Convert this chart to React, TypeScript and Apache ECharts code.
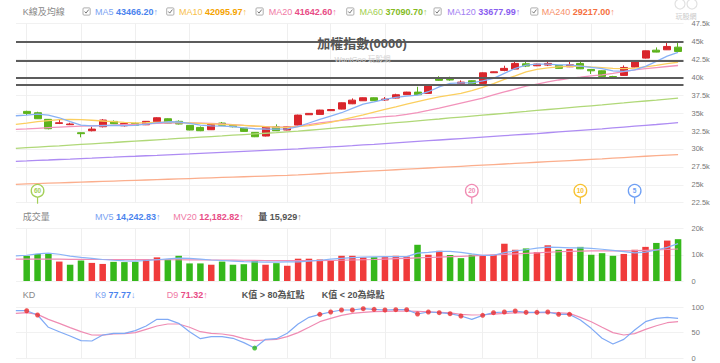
import React, { useEffect, useRef } from 'react';
import * as echarts from 'echarts';

const FONT = '"Liberation Sans", Arial, "Noto Sans CJK TC", sans-serif';

const titleText = '加權指數(0000)';
const subtitleText = 'WantGoo 玩股網';

// ---- daily candles (index 0..60) ----
const openP = [35240, 35050, 34130, 33560, 33380, 32260, 32540, 33100, 33840, 33230,
  33560, 33370, 33790, 34210, 33850, 33290, 33000, 32680, 33610, 33290,
  32910, 32310, 31800, 33100, 32640, 33330, 34770, 34820, 35340, 35560,
  36300, 36720, 37140, 36830, 37100, 37570, 37930, 37750, 39790, 39700,
  39100, 39510, 39140, 40630, 40960, 41140, 41880, 41600, 41700, 41650,
  41460, 41930, 41090, 40900, 40100, 40260, 41420, 42670, 43780, 43830, 44200];
const closeP = [34960, 34210, 32820, 33650, 33480, 32130, 32770, 34030, 33510, 33560,
  33300, 33850, 34350, 33600, 33480, 32640, 32540, 33430, 33300, 33100,
  32450, 31700, 33100, 32540, 33100, 34720, 34960, 35420, 35500, 36440,
  36810, 37140, 36730, 36960, 37560, 37930, 37560, 38770, 39570, 39620,
  39320, 38910, 40620, 40760, 41240, 41930, 41560, 41840, 41930, 41240,
  41740, 41180, 40900, 40120, 39950, 41370, 42210, 43690, 43510, 44300, 43600];
const lowP = [34730, 34180, 32730, 33470, 33330, 31620, 32450, 33000, 33470, 33120,
  33240, 33330, 33760, 33560, 33420, 32600, 32480, 32640, 33250, 33000,
  32400, 31650, 31750, 32500, 32600, 33300, 34740, 34800, 35300, 35520,
  36250, 36700, 36700, 36700, 37050, 37540, 37520, 37700, 39500, 39510,
  38950, 38880, 39100, 40600, 40840, 41100, 41420, 41550, 41560, 41200,
  41420, 41140, 40460, 40080, 39880, 40200, 41380, 42620, 43480, 43800, 43500];
const highP = [35330, 35190, 34160, 34120, 33650, 32300, 33100, 34160, 33980, 33620,
  33700, 33900, 34420, 34260, 33990, 33330, 33140, 33560, 33760, 33380,
  32960, 32350, 33200, 33430, 33160, 34780, 35000, 35460, 35540, 36480,
  37050, 37180, 37180, 37240, 37700, 37970, 38670, 39050, 40150, 40080,
  39560, 39560, 40680, 40800, 41610, 42390, 42180, 41900, 42210, 41700,
  42160, 42250, 41130, 40950, 40200, 41650, 42260, 43720, 44160, 44800, 44800];

// volume (index 0..60), 1 = up day (red), 0 = down day (green)
const volume = [9600, 10300, 10300, 7400, 6200, 7800, 6900, 6500, 7300, 7200,
  7300, 8200, 9000, 8200, 9600, 6700, 6700, 6200, 7400, 6200,
  6400, 7700, 6200, 6800, 5800, 8500, 8500, 8200, 7700, 9600,
  9600, 9000, 9100, 9100, 9600, 9300, 13800, 10000, 11500, 9900,
  8700, 10000, 9700, 10000, 14200, 11900, 12400, 11000, 13600, 11900,
  12200, 13000, 10000, 10600, 9600, 10300, 11900, 13000, 14500, 15400, 15929];
const volUp = [0, 0, 0, 1, 0, 0, 1, 1, 0, 0,
  0, 1, 1, 0, 0, 0, 0, 1, 0, 0,
  0, 0, 1, 0, 1, 1, 1, 1, 1, 1,
  1, 1, 0, 1, 1, 1, 0, 1, 1, 0,
  0, 0, 1, 1, 1, 1, 0, 1, 1, 0,
  1, 0, 0, 0, 0, 1, 1, 1, 0, 1, 0];

// ---- indicator lines: index -1 .. 60 (first value is the day before the first candle) ----
const ma5 = [34630, 34730, 34870, 34730, 34350, 33800, 33330, 33230, 33260, 33280,
  33250, 33300, 33470, 33650, 33790, 33760, 33570, 33330, 33230, 33190,
  33100, 32950, 32820, 32780, 32760, 32790, 33100, 33620, 34130, 34590,
  35050, 35660, 36260, 36580, 36920, 37190, 37370, 37510, 37980, 38670,
  39140, 39230, 39230, 39510, 39840, 40540, 41240, 41700, 41840, 41840,
  41740, 41740, 41560, 41380, 41200, 40900, 40820, 41040, 41510, 42210, 42950, 43466.2];
const ma10 = [33430, 33600, 33800, 33950, 34080, 34130, 34100, 34000, 33900, 33800,
  33700, 33650, 33660, 33720, 33750, 33700, 33620, 33560, 33500, 33430,
  33370, 33290, 33200, 33100, 33030, 33010, 33100, 33250, 33450, 33700,
  34050, 34400, 34750, 35150, 35520, 35880, 36250, 36600, 36950, 37250,
  37500, 37750, 38150, 38600, 39100, 39700, 40200, 40750, 41100, 41300,
  41450, 41520, 41560, 41450, 41350, 41250, 41200, 41270, 41450, 41650, 41900, 42095.97];
const ma20 = [32730, 32800, 32880, 32960, 33040, 33110, 33170, 33220, 33270, 33320,
  33380, 33440, 33500, 33560, 33620, 33640, 33640, 33610, 33570, 33480,
  33380, 33280, 33190, 33120, 33050, 33040, 33180, 33400, 33640, 33820,
  33990, 34130, 34250, 34380, 34500, 34620, 34820, 35080, 35380, 35700,
  36050, 36400, 36750, 37100, 37530, 37950, 38350, 38750, 39050, 39350,
  39620, 39830, 40000, 40200, 40340, 40550, 40800, 41040, 41200, 41350, 41500, 41642.6];
const ma60 = [30080, 30170, 30260, 30350, 30440, 30540, 30630, 30720, 30810, 30900,
  31000, 31090, 31180, 31270, 31360, 31460, 31550, 31640, 31730, 31820,
  31920, 32010, 32100, 32190, 32280, 32380, 32480, 32610, 32740, 32870,
  33000, 33130, 33270, 33400, 33530, 33660, 33790, 33920, 34050, 34180,
  34320, 34450, 34580, 34710, 34840, 34970, 35100, 35230, 35370, 35500,
  35630, 35760, 35890, 36020, 36150, 36290, 36420, 36560, 36690, 36820, 36960, 37090.7];
const ma120 = [28270, 28330, 28400, 28460, 28530, 28590, 28660, 28720, 28790, 28850,
  28920, 28980, 29050, 29110, 29180, 29250, 29310, 29380, 29450, 29520,
  29590, 29660, 29730, 29800, 29870, 29940, 30010, 30100, 30190, 30280,
  30370, 30460, 30560, 30650, 30750, 30850, 30950, 31050, 31150, 31250,
  31350, 31450, 31550, 31650, 31750, 31850, 31950, 32050, 32150, 32260,
  32370, 32480, 32590, 32700, 32810, 32930, 33050, 33170, 33290, 33410, 33540, 33677.99];
const ma240 = [25070, 25120, 25170, 25220, 25270, 25320, 25370, 25420, 25470, 25520,
  25570, 25620, 25670, 25720, 25770, 25820, 25870, 25920, 25970, 26020,
  26070, 26120, 26170, 26220, 26270, 26320, 26380, 26460, 26540, 26620,
  26700, 26780, 26860, 26940, 27020, 27100, 27180, 27260, 27340, 27420,
  27500, 27580, 27660, 27740, 27820, 27900, 27980, 28060, 28140, 28220,
  28300, 28380, 28460, 28540, 28620, 28710, 28800, 28890, 28980, 29070, 29150, 29217];
const mv5 = [9600, 9800, 10300, 10600, 10200, 9500, 9000, 8600, 8200, 7900,
  7700, 7600, 7800, 8100, 8400, 8700, 8600, 8300, 8000, 7800,
  7600, 7400, 7300, 7200, 7200, 7250, 7300, 7600, 7900, 8300,
  8600, 8900, 9100, 9200, 9300, 9300, 9300, 10600, 10900, 11300,
  11300, 10900, 10300, 9800, 9800, 10800, 11500, 11900, 12500, 12900,
  12800, 12600, 12600, 12400, 12100, 11700, 11200, 10700, 11000, 11800, 12800, 14242.83];
const mv20 = [8300, 8300, 8300, 8300, 8300, 8250, 8250, 8200, 8200, 8200,
  8150, 8150, 8150, 8100, 8100, 8100, 8050, 8050, 8000, 8000,
  7950, 7900, 7850, 7800, 7800, 7750, 7750, 7750, 7750, 7800,
  7900, 8000, 8100, 8200, 8350, 8500, 8650, 8800, 8950, 9100,
  9250, 9400, 9550, 9750, 9950, 10150, 10350, 10550, 10750, 10950,
  11150, 11300, 11400, 11450, 11500, 11500, 11500, 11550, 11700, 11850, 12000, 12182.82];
const k9 = [92.7, 92.7, 84.3, 60.2, 51.6, 43.1, 34.0, 33.3, 45.1, 48.4,
  48.4, 53.6, 62.7, 75.8, 75.8, 68.0, 51.6, 37.9, 41.8, 41.8,
  38.6, 30.1, 19.5, 36.6, 37.9, 48.4, 66.7, 79.7, 85.6, 90.2,
  94.1, 94.1, 96.7, 95.4, 94.1, 94.8, 94.8, 86.3, 90.2, 88.9,
  86.9, 82.4, 75.8, 83.7, 88.9, 90.2, 92.2, 89.5, 89.5, 90.2,
  85.6, 85.6, 74.5, 58.2, 38.6, 27.5, 36.6, 54.9, 71.2, 77.8, 79.5, 77.77];
const d9 = [87.6, 88.9, 85.6, 75.8, 68.0, 59.5, 51.6, 45.1, 44.8, 47.1,
  47.7, 49.7, 56.2, 62.7, 66.7, 66.7, 60.2, 51.6, 48.4, 47.1,
  43.8, 37.9, 34.0, 35.3, 36.6, 41.8, 49.7, 60.2, 71.2, 77.8,
  83.7, 87.6, 89.5, 91.0, 91.5, 92.0, 92.2, 91.5, 90.5, 89.5,
  88.5, 85.6, 84.3, 84.8, 86.0, 87.6, 88.5, 89.0, 89.0, 89.0,
  88.5, 87.6, 79.7, 71.2, 60.2, 49.7, 45.1, 47.7, 56.2, 63.3, 69.2, 71.32];

const supportLevels = [44900, 42360, 40000, 38980];
const periodLines = [0, 5, 10, 15, 24, 28, 33, 42, 47, 52, 57];
const pinIdx = [1, 41, 51, 56];
const pinText = ['60', '20', '10', '5'];

const priceTicks = { min: 22500, max: 47500, interval: 2500 };
const volTicks = { min: 0, max: 20000, interval: 10000 };
const kdTicks = { min: 0, max: 100, interval: 50 };

const C = {
  ma5: '#88b1f6', ma10: '#fbcf5f', ma20: '#f293bb', ma60: '#b0d878', ma120: '#ae8cf3', ma240: '#fbae8d',
  up: '#d9262c', down: '#5db31c', vUp: '#f03b3b', vDown: '#35b81b',
};
const pinColor = ['#a3cf57', '#f08cb4', '#f7c12f', '#6e9ff4'];

const X0 = -0.985;
const X1 = 60.5;

const last = (a: number[]) => a[a.length - 1];
const arrow = (a: number[]) => (a[a.length - 1] >= a[a.length - 2] ? '↑' : '↓');
const fmtComma = (v: number, d: number) =>
  v.toLocaleString('en-US', { minimumFractionDigits: d, maximumFractionDigits: d });

export default function App() {
  const ref = useRef<HTMLDivElement>(null);

  useEffect(() => {
    const chart = echarts.init(ref.current!, null, { renderer: 'svg' });

    const prev = (arr: number[]) => arr.map((v, i) => [i - 1, v]);

    const lineSeries = (data: number[], color: string, grid: number, width = 1.3) => ({
      type: 'line', xAxisIndex: grid, yAxisIndex: grid, data: prev(data),
      showSymbol: false, symbol: 'none', silent: true, z: 3,
      lineStyle: { color, width }, itemStyle: { color },
    });

    const splitHelper = (grid: number, yMin: number) => ({
      type: 'scatter', xAxisIndex: grid, yAxisIndex: grid, data: [[0, yMin]], symbolSize: 0, silent: true,
      markLine: {
        silent: true, z: 1, symbol: ['none', 'none'], label: { show: false },
        lineStyle: { color: '#efefef', width: 1, type: 'solid' },
        emphasis: { disabled: true },
        data: periodLines.map((i) => ({ xAxis: i })),
      },
    });

    const yAxisBase = (grid: number, t: { min: number; max: number; interval: number }, fmt: (v: number) => string) => ({
      type: 'value', gridIndex: grid, position: 'right', min: t.min, max: t.max, interval: t.interval,
      axisLine: { show: false }, axisTick: { show: false },
      axisLabel: { fontSize: 7.5, color: '#777', margin: 8, fontFamily: FONT, formatter: fmt },
      splitLine: { lineStyle: { color: '#f1f1f1', width: 1 } },
    });

    const kFmt = (v: number) => (v === 0 ? '0' : `${v / 1000}k`);

    // ---- legends (graphic) ----
    const g: any[] = [];
    const label = (x: number, y: number, text: string, color = '#888') =>
      g.push({ type: 'text', x, y, style: { text, fill: color, fontSize: 9, fontFamily: FONT, verticalAlign: 'middle' } });
    const entry = (x: number, y: number, name: string, val: string, arr: string, lc: string, vc: string, ac: string, nameBold = false) =>
      g.push({
        type: 'text', x, y,
        style: {
          text: `{l|${name}} {v|${val}}{a|${arr}}`, fontSize: 9, fontFamily: FONT, verticalAlign: 'middle', fill: lc,
          rich: {
            l: { fill: lc, fontSize: 9, fontFamily: FONT, fontWeight: nameBold ? 'bold' : 'normal' },
            v: { fill: vc, fontSize: 9, fontFamily: FONT, fontWeight: 'bold' },
            a: { fill: ac, fontSize: 9, fontFamily: FONT },
          },
        },
      });
    const checkbox = (x: number, y: number) => {
      g.push({ type: 'rect', shape: { x, y: y - 3.6, width: 7.2, height: 7.2, r: 1 }, style: { fill: '#fff', stroke: '#9a9a9a', lineWidth: 0.8 } });
      g.push({ type: 'polyline', shape: { points: [[x + 1.6, y], [x + 3.0, y + 1.6], [x + 5.7, y - 1.9]] }, style: { stroke: '#666', lineWidth: 0.9, fill: null } });
    };

    const TY = 11.5;
    label(22.7, TY, 'K線及均線');
    const maLegend: [number, number, string, number[], string, string, string][] = [
      [83, 95, 'MA5', ma5, '#7ba3f2', '#4a84ee', '#7ba3f2'],
      [166.7, 179, 'MA10', ma10, '#f7c04a', '#f5a300', '#f7c04a'],
      [256, 268.7, 'MA20', ma20, '#f07aa5', '#e84c86', '#f07aa5'],
      [346.7, 359.5, 'MA60', ma60, '#9fce4e', '#84bb1e', '#9fce4e'],
      [434, 447.3, 'MA120', ma120, '#a27ef2', '#8a5ef0', '#a27ef2'],
      [530.7, 541.7, 'MA240', ma240, '#f7916b', '#f5703f', '#f7916b'],
    ];
    maLegend.forEach(([cx, tx, name, arr, lc, vc, ac]) => {
      checkbox(cx, TY);
      entry(tx, TY, name, last(arr).toFixed(2), arrow(arr), lc, vc, ac);
    });

    const VY = 217.3;
    label(22.7, VY, '成交量');
    entry(95, VY, 'MV5', fmtComma(last(mv5), 2), arrow(mv5), '#7ba3f2', '#4a84ee', '#7ba3f2');
    entry(173.3, VY, 'MV20', fmtComma(last(mv20), 2), arrow(mv20), '#f07aa5', '#e84c86', '#f07aa5');
    entry(258.3, VY, '量', fmtComma(last(volume), 0), arrow(volume), '#555', '#555', '#888', true);

    const KY = 294.7;
    label(22.7, KY, 'KD');
    entry(95, KY, 'K9', last(k9).toFixed(2), arrow(k9), '#7ba3f2', '#4a84ee', '#7ba3f2');
    entry(166.7, KY, 'D9', last(d9).toFixed(2), arrow(d9), '#f07aa5', '#e84c86', '#f07aa5');
    g.push({ type: 'text', x: 241.7, y: KY, style: { text: 'K值 > 80為紅點', fill: '#555', fontSize: 9, fontWeight: 'bold', fontFamily: FONT, verticalAlign: 'middle' } });
    g.push({ type: 'text', x: 321.7, y: KY, style: { text: 'K值 < 20為綠點', fill: '#555', fontSize: 9, fontWeight: 'bold', fontFamily: FONT, verticalAlign: 'middle' } });

    // title & watermark
    g.push({ type: 'text', x: 362, y: 43, z: 50, style: { text: titleText, fill: '#555', fontSize: 13, fontWeight: 'bold', fontFamily: FONT, align: 'center', verticalAlign: 'middle' } });
    g.push({ type: 'text', x: 362.5, y: 59, z: 50, style: { text: subtitleText, fill: '#cfcfcf', fontSize: 7.5, fontFamily: FONT, align: 'center', verticalAlign: 'middle' } });
    g.push({ type: 'text', x: 686, y: 16.5, style: { text: '玩股網', fill: '#cacaca', fontSize: 7, fontFamily: FONT, align: 'center', verticalAlign: 'middle' } });
    g.push({ type: 'circle', shape: { cx: 680, cy: 4, r: 5 }, style: { fill: 'none', stroke: '#e2e2e2', lineWidth: 1.2 } });
    g.push({ type: 'circle', shape: { cx: 692, cy: 4, r: 5 }, style: { fill: 'none', stroke: '#e2e2e2', lineWidth: 1.2 } });

    const redDots = prev(k9).filter(([x, v]) => x >= 0 && v > 80);
    const greenDots = prev(k9).filter(([x, v]) => x >= 0 && v < 20);

    const option: any = {
      animation: false,
      backgroundColor: '#fff',
      textStyle: { fontFamily: FONT },
      grid: [
        { left: 16, right: 36.5, top: 23.5, height: 179.2 },
        { left: 16, right: 36.5, top: 228.5, height: 52.5 },
        { left: 16, right: 36.5, top: 307, height: 51 },
      ],
      xAxis: [0, 1, 2].map((i) => ({ type: 'value', gridIndex: i, min: X0, max: X1, show: false })),
      yAxis: [
        yAxisBase(0, priceTicks, kFmt),
        yAxisBase(1, volTicks, kFmt),
        yAxisBase(2, kdTicks, (v: number) => String(v)),
      ],
      graphic: { elements: g },
      series: [
        splitHelper(0, priceTicks.min),
        splitHelper(1, volTicks.min),
        splitHelper(2, kdTicks.min),
        {
          type: 'candlestick', xAxisIndex: 0, yAxisIndex: 0, barWidth: 7.5, silent: true, z: 2,
          data: openP.map((o, i) => [i, o, closeP[i], lowP[i], highP[i]]),
          itemStyle: { color: C.up, color0: C.down, borderColor: C.up, borderColor0: C.down, borderWidth: 1 },
          markLine: {
            silent: true, symbol: ['none', 'none'], label: { show: false }, emphasis: { disabled: true },
            lineStyle: { color: '#5c5c5c', width: 2, type: 'solid' },
            data: supportLevels.map((v) => ({ yAxis: v })),
          },
        },
        lineSeries(ma240, C.ma240, 0),
        lineSeries(ma120, C.ma120, 0),
        lineSeries(ma60, C.ma60, 0),
        lineSeries(ma20, C.ma20, 0),
        lineSeries(ma10, C.ma10, 0),
        lineSeries(ma5, C.ma5, 0),
        {
          type: 'custom', xAxisIndex: 0, yAxisIndex: 0, clip: false, silent: true, z: 6,
          data: pinIdx.map((i) => [i, priceTicks.min]),
          renderItem: (params: any, api: any) => {
            const pt = api.coord([api.value(0), api.value(1)]);
            const cs = params.coordSys;
            const bottom = cs.y + cs.height;
            const cy = bottom - 12;
            const c = pinColor[params.dataIndex];
            return {
              type: 'group',
              children: [
                { type: 'line', shape: { x1: pt[0], y1: cy + 6, x2: pt[0], y2: bottom + 1 }, style: { stroke: c, lineWidth: 1.2 } },
                { type: 'circle', shape: { cx: pt[0], cy, r: 6.3 }, style: { fill: '#fff', stroke: c, lineWidth: 1.3 } },
                { type: 'text', x: pt[0], y: cy, style: { text: pinText[params.dataIndex], fill: c, font: `bold 6.5px ${FONT}`, align: 'center', verticalAlign: 'middle' } },
              ],
            };
          },
        },
        {
          type: 'bar', xAxisIndex: 1, yAxisIndex: 1, barWidth: 6.5, silent: true,
          data: volume.map((v, i) => ({ value: [i, v], itemStyle: { color: volUp[i] ? C.vUp : C.vDown } })),
        },
        lineSeries(mv20, '#f08cb4', 1, 1.2),
        lineSeries(mv5, '#8ab4f8', 1, 1.2),
        lineSeries(d9, '#ef8cb3', 2, 1.2),
        lineSeries(k9, '#80aaf5', 2, 1.2),
        {
          type: 'scatter', xAxisIndex: 2, yAxisIndex: 2, data: redDots, symbolSize: 5, silent: true, z: 5,
          itemStyle: { color: '#ee2d2d' },
        },
        {
          type: 'scatter', xAxisIndex: 2, yAxisIndex: 2, data: greenDots, symbolSize: 5, silent: true, z: 5,
          itemStyle: { color: '#2fb51b' },
        },
      ],
    };

    chart.setOption(option);
    return () => chart.dispose();
  }, []);

  return <div ref={ref} style={{ position: 'absolute', left: 0, top: 0, width: 720, height: 363 }} />;
}
